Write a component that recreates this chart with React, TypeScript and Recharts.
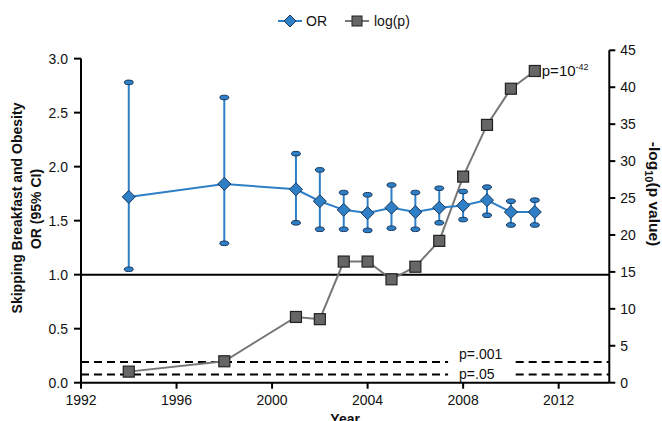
import { ComposedChart, Line, XAxis, YAxis, ReferenceLine, ErrorBar, Legend } from "recharts";

const FONT = "'Liberation Sans', Arial, Helvetica, sans-serif";
const BLUE = "#2f7fc6";
const NAVY = "#18365a";
const GREY = "#777777";
const SQUARE = "#666666";

// survey years
const years = [1994, 1998, 2001, 2002, 2003, 2004, 2005, 2006, 2007, 2008, 2009, 2010, 2011];
// odds ratio + 95% CI
const orValues = [1.72, 1.84, 1.79, 1.68, 1.6, 1.57, 1.62, 1.58, 1.62, 1.64, 1.69, 1.58, 1.58];
const ciLow = [1.05, 1.29, 1.48, 1.42, 1.42, 1.41, 1.43, 1.42, 1.48, 1.51, 1.55, 1.46, 1.46];
const ciHigh = [2.78, 2.64, 2.12, 1.97, 1.76, 1.74, 1.83, 1.76, 1.8, 1.77, 1.81, 1.68, 1.69];
// -log10(p)
const logP = [1.5, 2.9, 8.9, 8.6, 16.4, 16.4, 14.0, 15.7, 19.2, 27.9, 34.9, 39.8, 42.2];

const xTicks = [1992, 1996, 2000, 2004, 2008, 2012];
const leftTicks = [0, 0.5, 1, 1.5, 2, 2.5, 3];
const rightTicks = [0, 5, 10, 15, 20, 25, 30, 35, 40, 45];

const pLabels = ["p=.001", "p=.05"];
const pLevels = [2.8, 1.1];

const data = years.map((year, i) => ({
  year,
  or: orValues[i],
  lo: ciLow[i],
  hi: ciHigh[i],
  err: [orValues[i] - ciLow[i], ciHigh[i] - orValues[i]],
  logp: logP[i],
}));

const Diamond = (props: any) => {
  const { cx, cy } = props;
  if (cx == null || cy == null) return null;
  const r = 6.5;
  return (
    <polygon
      points={`${cx},${cy - r} ${cx + r},${cy} ${cx},${cy + r} ${cx - r},${cy}`}
      fill={BLUE}
      stroke={NAVY}
      strokeWidth={1}
    />
  );
};

const Square = (props: any) => {
  const { cx, cy } = props;
  if (cx == null || cy == null) return null;
  return <rect x={cx - 5.5} y={cy - 5.5} width={11} height={11} fill={SQUARE} stroke="#222" strokeWidth={1.2} />;
};

const Cap = (props: any) => {
  const { cx, cy } = props;
  if (cx == null || cy == null) return null;
  return <ellipse cx={cx} cy={cy} rx={4.5} ry={2.3} fill={BLUE} stroke={NAVY} strokeWidth={1} />;
};

const renderLegend = () => (
  <div style={{ display: "flex", alignItems: "center", fontFamily: FONT, fontSize: 14, color: "#111" }}>
    <svg width={24} height={14}>
      <line x1={0} y1={7} x2={24} y2={7} stroke={BLUE} strokeWidth={2} />
      <polygon points="12,1 18,7 12,13 6,7" fill={BLUE} stroke={NAVY} strokeWidth={1} />
    </svg>
    <span style={{ marginLeft: 4, marginRight: 18 }}>OR</span>
    <svg width={24} height={14}>
      <line x1={0} y1={7} x2={24} y2={7} stroke={GREY} strokeWidth={2} />
      <rect x={7} y={2} width={10} height={10} fill={SQUARE} stroke="#222" strokeWidth={1} />
    </svg>
    <span style={{ marginLeft: 5 }}>log(p)</span>
  </div>
);

const LeftTitle = () => (
  <g fontFamily={FONT} fontWeight="bold" fontSize={14} fill="#111">
    <text transform="translate(22, 208) rotate(-90)" textAnchor="middle">
      Skipping Breakfast and Obesity
    </text>
    <text transform="translate(40.5, 209) rotate(-90)" textAnchor="middle">
      OR (95% CI)
    </text>
  </g>
);

const RightTitle = () => (
  <text transform="translate(649, 194) rotate(90)" textAnchor="middle" fontFamily={FONT} fontWeight="bold" fontSize={15.5} fill="#111">
    -log
    <tspan dy={4} fontSize={11}>
      10
    </tspan>
    <tspan dy={-4}>(p value)</tspan>
  </text>
);

const lastIndex = data.length - 1;
const PLabel = (props: any) => {
  const { x, y, index } = props;
  if (index !== lastIndex) return null;
  return (
    <text x={x + 7} y={y + 5} fontFamily={FONT} fontSize={15} fill="#111">
      p=10
      <tspan dy={-6} fontSize={9}>
        -42
      </tspan>
    </text>
  );
};

// the .001 label sits above its line, the .05 label sits in the gap
const labelShift = [-8, -1];
const thresholdLabel = (i: number) => (props: any) => {
  const vb = props.viewBox || {};
  const x = (vb.x || 0) + (vb.width || 0) + 11;
  const y = (vb.y || 0) + labelShift[i] + 5;
  return (
    <text x={x} y={y} fontFamily={FONT} fontSize={14} fill="#111">
      {pLabels[i]}
    </text>
  );
};

const tickStyle = { fill: "#111", fontSize: 14, fontFamily: FONT };

export default function App() {
  return (
    <div style={{ width: 662, height: 421, position: "relative" }}>
      <style>{"body{margin:0}"}</style>
      <ComposedChart width={662} height={421} data={data} margin={{ top: 34.3, right: 12.7, left: 21, bottom: 0 }}>
        <XAxis
          dataKey="year"
          type="number"
          domain={[1992, 2014.12]}
          allowDataOverflow
          ticks={xTicks}
          tick={tickStyle}
          tickSize={6}
          tickMargin={6}
          height={38.3}
          axisLine={{ stroke: "#000", strokeWidth: 2 }}
          tickLine={{ stroke: "#000", strokeWidth: 2 }}
          label={{ value: "Year", position: "insideBottom", offset: -2.5, fill: "#111", fontSize: 14, fontWeight: "bold", fontFamily: FONT }}
        />
        <YAxis
          yAxisId="left"
          domain={[0, 3.077]}
          allowDataOverflow
          ticks={leftTicks}
          tickFormatter={(v: number) => v.toFixed(1)}
          tick={tickStyle}
          tickSize={7}
          tickMargin={6}
          width={60}
          axisLine={false}
          tickLine={{ stroke: "#000", strokeWidth: 2 }}
          label={{ content: () => <LeftTitle /> }}
        />
        <YAxis
          yAxisId="right"
          orientation="right"
          domain={[0, 45]}
          ticks={rightTicks}
          tick={tickStyle}
          tickSize={6}
          tickMargin={5}
          width={40}
          axisLine={{ stroke: "#000", strokeWidth: 2 }}
          tickLine={{ stroke: "#000", strokeWidth: 2 }}
          label={{ content: () => <RightTitle /> }}
        />
        <Legend
          layout="vertical"
          verticalAlign="top"
          align="center"
          content={renderLegend}
          wrapperStyle={{ top: 13, left: 278, width: "auto" }}
        />

        <ReferenceLine
          yAxisId="left"
          segment={[
            { x: 1992, y: 0 },
            { x: 1992, y: 3 },
          ]}
          stroke="#000"
          strokeWidth={2}
        />
        <ReferenceLine yAxisId="left" y={1} stroke="#000" strokeWidth={2} />
        {pLevels.map((v, i) => (
          <ReferenceLine
            key={pLabels[i] + "a"}
            yAxisId="right"
            segment={[
              { x: 1992, y: v },
              { x: 2007.37, y: v },
            ]}
            stroke="#000"
            strokeWidth={2}
            strokeDasharray="8 5"
            label={{ content: thresholdLabel(i) }}
          />
        ))}
        {pLevels.map((v, i) => (
          <ReferenceLine
            key={pLabels[i] + "b"}
            yAxisId="right"
            segment={[
              { x: 2010.2, y: v },
              { x: 2014.12, y: v },
            ]}
            stroke="#000"
            strokeWidth={2}
            strokeDasharray="8 5"
          />
        ))}

        <Line
          yAxisId="right"
          dataKey="logp"
          stroke={GREY}
          strokeWidth={2}
          dot={<Square />}
          activeDot={false}
          label={<PLabel />}
          isAnimationActive={false}
        />
        <Line
          yAxisId="left"
          dataKey="or"
          stroke={BLUE}
          strokeWidth={2}
          dot={<Diamond />}
          activeDot={false}
          isAnimationActive={false}
        >
          <ErrorBar dataKey="err" width={0} stroke={BLUE} strokeWidth={2} direction="y" isAnimationActive={false} />
        </Line>
        <Line yAxisId="left" dataKey="lo" stroke="none" dot={<Cap />} activeDot={false} legendType="none" isAnimationActive={false} />
        <Line yAxisId="left" dataKey="hi" stroke="none" dot={<Cap />} activeDot={false} legendType="none" isAnimationActive={false} />
      </ComposedChart>
    </div>
  );
}
